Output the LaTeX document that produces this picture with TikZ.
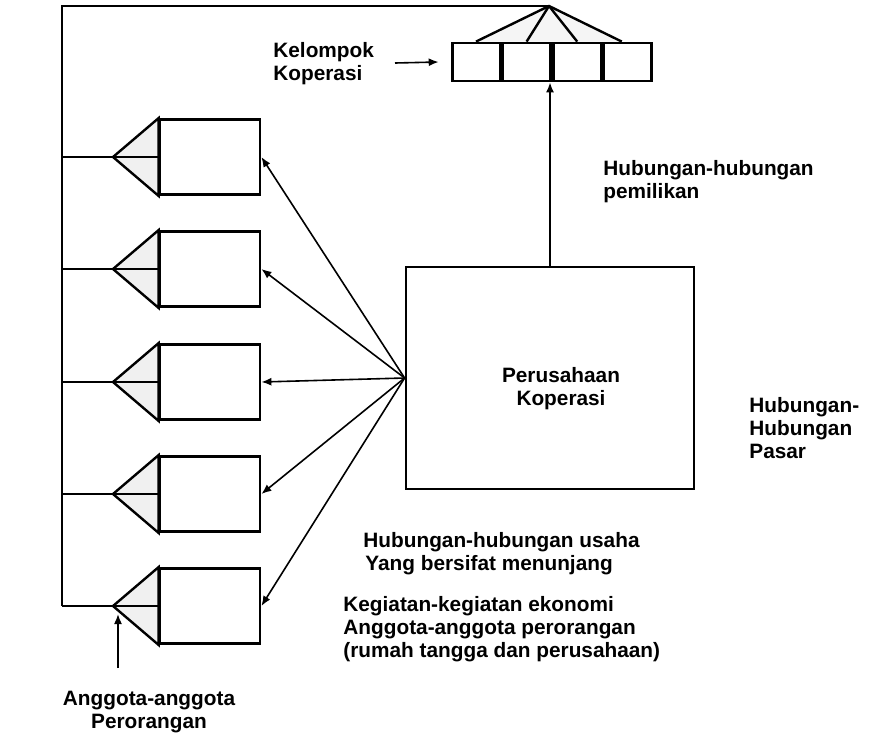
\documentclass[tikz,border=0pt]{standalone}
\usepackage{fontspec}
\setmainfont{Liberation Sans}
\usetikzlibrary{arrows.meta,positioning}

\begin{document}
\begin{tikzpicture}[
  x=0.5pt, y=-0.5pt,
  font=\fontsize{10.4}{11.3}\selectfont\bfseries,
  >={Latex[length=5pt,width=4pt]},
  % ── boxes ────────────────────────────────────────────────────────────────
  member/.style={draw, line width=1.4pt, minimum width=50pt,
    minimum height=37.5pt, inner sep=0pt},
  cell/.style={draw, line width=1.4pt, minimum width=23.9pt,
    minimum height=19pt, inner sep=0pt},
  firm/.style={draw, line width=1.4pt, minimum width=144pt,
    minimum height=111pt, inner sep=0pt},
  wedge/.style={draw, line width=1.2pt, fill=gray!12},
  % ── texts (base = baseline of the last line) ─────────────────────────────
  lbl/.style={align=left, anchor=base west, inner sep=0pt},
  % ── lines ────────────────────────────────────────────────────────────────
  wire/.style={line width=1pt},
  arr/.style={->, line width=0.8pt},
]
\useasboundingbox (0,0) rectangle (871,734);

%% ── Cooperative group (row of four cells) ──
\node[cell] (C1) at (476,62) {};
\node[cell, right=0pt of C1] (C2) {};
\node[cell, right=0pt of C2] (C3) {};
\node[cell, right=0pt of C3] (C4) {};
\coordinate (apex) at (549,6);
\filldraw[wedge, fill=gray!8] (C1.north) -- (apex) -- ([xshift=-3pt]C4.north);
\draw[wedge] (apex) -- (C2.north);
\draw[wedge] (apex) -- (C3.north);

%% ── Cooperative firm ──
\node[firm] (P) at (550,378) {};
\node[lbl, align=center, anchor=base] (Ptext) at (561,405)
      {Perusahaan\\Koperasi};
\coordinate (fan) at (P.west);

%% ── Individual members (boxes with wedge) ──
\foreach \i/\yy in {1/157,2/269,3/382,4/494,5/606} {
  \node[member] (M\i) at (210,\yy) {};
  \coordinate (A\i) at (113,\yy);
  \coordinate (L\i) at (62,\yy);
  \filldraw[wedge] (M\i.north west) -- (A\i) -- (M\i.south west) -- cycle;
  \draw[wire] (L\i) -- (M\i.west);
  \draw[arr] (fan) -- (M\i.east);
}

%% ── Left spine up to the group ──
\coordinate (TL) at (62,6);
\draw[wire] (L5) -- (TL) -- (apex);

%% ── Ownership arrow ──
\draw[arr] (P.north) -- (P.north |- C3.south);

%% ── Labels ──
\node[lbl] (KK) at (273,80) {Kelompok\\Koperasi};
\coordinate (kkTail) at (395,63);
\draw[arr] (kkTail) -- ([xshift=-6pt]C1.west);

\node[lbl] (own) at (603,198) {Hubungan-hubungan\\pemilikan};
\node[lbl] (mkt) at (749,458) {Hubungan-\\Hubungan\\Pasar};
\node[lbl] (biz) at (363,570) {Hubungan-hubungan usaha\\\hspace*{1pt}Yang bersifat menunjang};
\node[lbl] (eco) at (343,657)
      {Kegiatan-kegiatan ekonomi\\Anggota-anggota perorangan\\(rumah tangga dan perusahaan)};
\node[lbl, align=center, anchor=base] (ind) at (149,728)
      {Anggota-anggota\\Perorangan};
\coordinate (indTail) at (118,668);
\draw[arr, shorten >=4pt] (indTail) -- (indTail |- A5);

\end{tikzpicture}
\end{document}
